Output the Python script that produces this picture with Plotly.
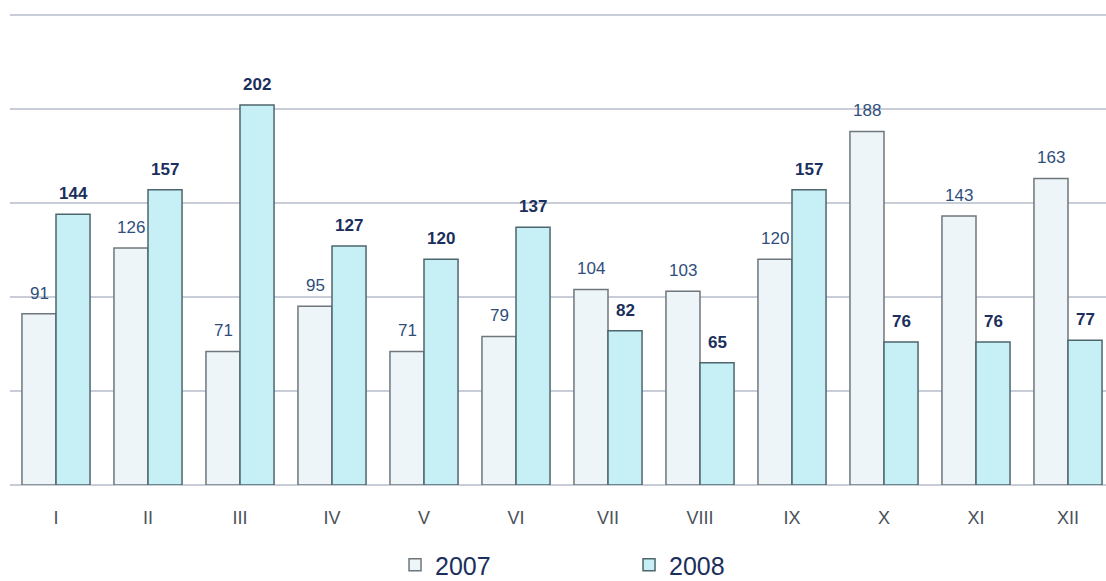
import plotly.graph_objects as go

months = ["I", "II", "III", "IV", "V", "VI", "VII", "VIII", "IX", "X", "XI", "XII"]
values_2007 = [91, 126, 71, 95, 71, 79, 104, 103, 120, 188, 143, 163]
values_2008 = [144, 157, 202, 127, 120, 137, 82, 65, 157, 76, 76, 77]

FONT = "Liberation Sans, Arial, sans-serif"

fig = go.Figure()
fig.add_trace(go.Bar(
    name="2007", x=months, y=values_2007,
    marker=dict(color="#eef5f8", line=dict(color="#6f777c", width=1.5)),
))
fig.add_trace(go.Bar(
    name="2008", x=months, y=values_2008,
    marker=dict(color="#c6eff6", line=dict(color="#4d666e", width=1.5)),
))

annotations = []
for m, v in zip(months, values_2007):
    annotations.append(dict(x=m, y=v, text=str(v), showarrow=False, xanchor="center",
                            yanchor="bottom", xshift=-17, yshift=9,
                            font=dict(family=FONT, size=17, color="#2f4e7c")))
for m, v in zip(months, values_2008):
    annotations.append(dict(x=m, y=v, text=f"<b>{v}</b>", showarrow=False, xanchor="center",
                            yanchor="bottom", xshift=17, yshift=9,
                            font=dict(family=FONT, size=17, color="#1b2f5c")))

fig.update_layout(
    width=1106, height=600,
    margin=dict(l=10, r=0, t=11, b=115),
    paper_bgcolor="white", plot_bgcolor="white",
    barmode="group", bargap=0.26, bargroupgap=0,
    font=dict(family=FONT, color="#1b2f5c"),
    showlegend=True,
    annotations=annotations,
    legend=dict(
        orientation="h", x=0.3513, xanchor="left", y=-0.1688, yanchor="middle",
        font=dict(size=25, color="#1b2f5c"),
        entrywidth=189, entrywidthmode="pixels", itemwidth=30,
        bgcolor="rgba(0,0,0,0)",
    ),
    xaxis=dict(
        range=[-0.5, 11.413], showgrid=False, showline=False, ticks="",
        tickfont=dict(size=18, color="#4a5058"), ticklabelstandoff=20,
    ),
    yaxis=dict(
        range=[0, 252], dtick=50, showgrid=True, gridcolor="#c9cdd8", gridwidth=2,
        zeroline=True, zerolinecolor="#c9cdd8", zerolinewidth=2,
        showticklabels=False, showline=False, ticks="",
    ),
)

fig.write_html(
    "out.html",
    config={"displayModeBar": False},
    post_script="document.documentElement.style.overflow='hidden';"
                "document.body.style.margin='0';document.body.style.overflow='hidden';",
)
